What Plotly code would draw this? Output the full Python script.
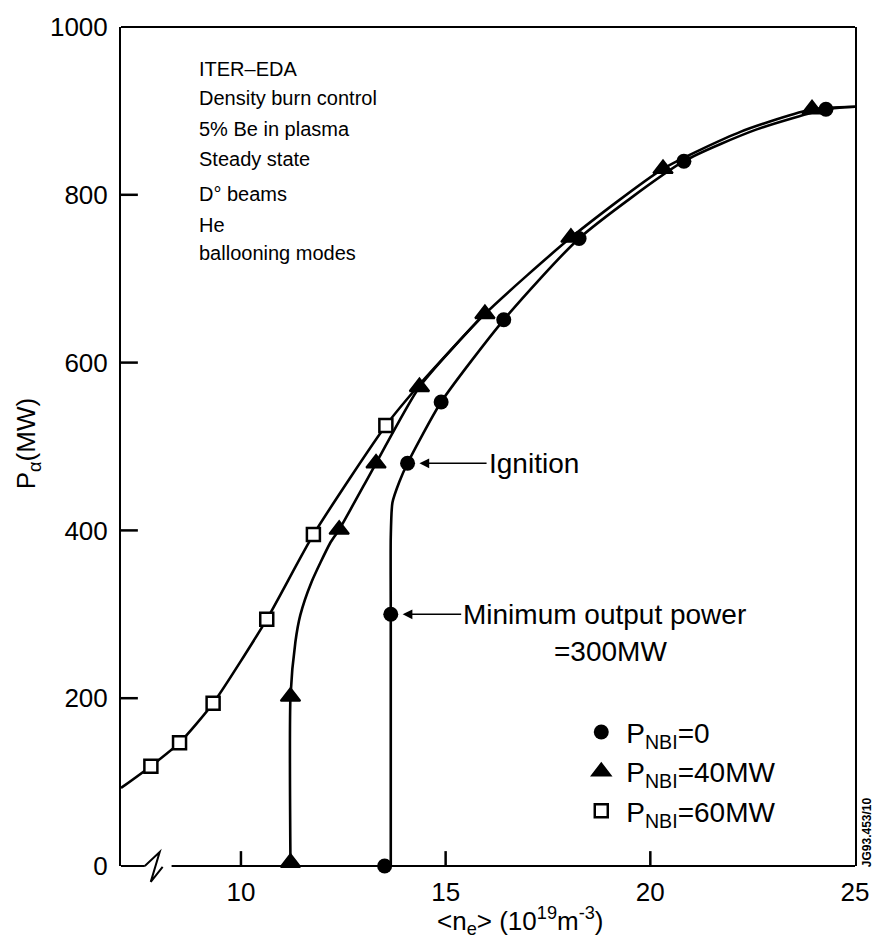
import plotly.graph_objects as go

# ---- data -------------------------------------------------------------
# P_NBI = 0 (circles)
circ_x = [13.51, 13.66, 14.07, 14.89, 16.42, 18.26, 20.82, 24.29]
circ_y = [0, 300, 480, 553, 651, 748, 840, 902]
circ_curve_x = [13.66, 13.66, 13.66, 13.70, 13.87, 14.07, 14.89, 16.42, 18.26, 20.82, 22.6, 24.29, 25.0]
circ_curve_y = [0, 300, 392, 433, 458, 480, 553, 651, 748, 840, 878, 902, 905]

# P_NBI = 40 MW (triangles)
tri_x = [11.21, 11.21, 12.40, 13.30, 14.36, 15.96, 18.06, 20.31, 23.95]
tri_y = [4, 202, 401, 480, 571, 658, 749, 831, 902]
tri_curve_x = [11.21, 11.21, 11.33, 11.45, 11.72, 12.18, 12.40, 13.30, 14.36, 15.96, 18.06, 20.31, 22.2, 23.95, 25.0]
tri_curve_y = [0, 202, 267, 299, 338, 385, 401, 480, 571, 658, 749, 831, 875, 902, 905]

# P_NBI = 60 MW (open squares)
sq_x = [7.80, 8.50, 9.32, 10.63, 11.77, 13.54]
sq_y = [119, 147, 194, 294, 395, 525]
sq_curve_x = [7.07, 7.80, 8.50, 9.32, 10.63, 11.77, 13.54, 14.40, 15.96]
sq_curve_y = [93, 119, 147, 194, 294, 395, 525, 576, 659]

x_ticks = [10, 15, 20, 25]
y_ticks = [0, 200, 400, 600, 800, 1000]

info_lines = ["ITER\u2013EDA", "Density burn control", "5% Be in plasma",
              "Steady state", "D\u00b0 beams", "He", "ballooning modes"]

legend_names = ["P<sub>NBI</sub>=0", "P<sub>NBI</sub>=40MW", "P<sub>NBI</sub>=60MW"]

# ---- geometry helpers (pixel -> paper) -------------------------------
W, H = 881, 948
ML, MR, MT, MB = 121, 20, 20, 82
PW, PH = W - ML - MR, H - MT - MB


def px(xp):
    return (xp - ML) / PW


def py(yp):
    return (H - MB - yp) / PH


FONT = "Liberation Sans, Arial, Helvetica, sans-serif"
LW = 2.6
BIG = 28

fig = go.Figure()

# curves
for cx, cy in [(sq_curve_x, sq_curve_y), (tri_curve_x, tri_curve_y), (circ_curve_x, circ_curve_y)]:
    fig.add_trace(go.Scatter(x=cx, y=cy, mode="lines", showlegend=False, hoverinfo="skip",
                             line=dict(color="black", width=LW, shape="spline", smoothing=0.6),
                             cliponaxis=False))

# markers
fig.add_trace(go.Scatter(x=circ_x, y=circ_y, mode="markers", name=legend_names[0],
                         marker=dict(symbol="circle", size=15, color="black"), cliponaxis=False))
fig.add_trace(go.Scatter(x=tri_x, y=tri_y, mode="markers", name=legend_names[1],
                         marker=dict(symbol="triangle-up", size=17, color="black",
                                     line=dict(color="black", width=2)), cliponaxis=False))
fig.add_trace(go.Scatter(x=sq_x, y=sq_y, mode="markers", name=legend_names[2],
                         marker=dict(symbol="square", size=13, color="white",
                                     line=dict(color="black", width=2.5)), cliponaxis=False))

annotations = []
# text block
info_y = [62, 92, 123, 153, 188, 220, 248]
for t, yp in zip(info_lines, info_y):
    annotations.append(dict(text=t, xref="paper", yref="paper", x=px(198), y=py(yp),
                            xanchor="left", yanchor="middle", showarrow=False,
                            font=dict(family=FONT, size=20, color="black")))

# pointers
arrow_style = dict(showarrow=True, arrowhead=2, arrowsize=1.3, arrowwidth=1.5, arrowcolor="black",
                   xref="x", yref="y", axref="x", ayref="y", xanchor="left", yanchor="middle",
                   font=dict(family=FONT, size=BIG, color="black"))
annotations.append(dict(text="Ignition", x=14.36, y=480, ax=16.0, ay=480, **arrow_style))
annotations.append(dict(text="Minimum output power", x=13.95, y=300, ax=15.38, ay=300, **arrow_style))
annotations.append(dict(text="=300MW", x=px(614), y=py(650), xref="paper", yref="paper",
                        xanchor="center", yanchor="middle", showarrow=False,
                        font=dict(family=FONT, size=BIG, color="black")))

# axis titles
annotations.append(dict(text="P<sub>\u03b1</sub>(MW)", x=px(27), y=py(440), xref="paper", yref="paper",
                        xanchor="center", yanchor="middle", textangle=-90, showarrow=False,
                        font=dict(family=FONT, size=26, color="black")))
annotations.append(dict(text="<n<sub>e</sub>> (10<sup>19</sup>m<sup>-3</sup>)", x=px(524), y=py(921),
                        xref="paper", yref="paper", xanchor="center", yanchor="middle", showarrow=False,
                        font=dict(family=FONT, size=26, color="black")))
# figure code
annotations.append(dict(text="<b>JG93.453/10</b>", x=px(873), y=py(832), xref="paper", yref="paper",
                        xanchor="center", yanchor="middle", textangle=-90, showarrow=False,
                        font=dict(family=FONT, size=12, color="black")))

shapes = [
    # top frame
    dict(type="line", xref="paper", yref="paper", x0=0, x1=1, y0=1, y1=1,
         line=dict(color="black", width=2)),
    # bottom axis with break
    dict(type="line", xref="paper", yref="paper", x0=0, x1=px(145), y0=0, y1=0,
         line=dict(color="black", width=2)),
    dict(type="line", xref="paper", yref="paper", x0=px(172), x1=1, y0=0, y1=0,
         line=dict(color="black", width=2)),
    dict(type="path", xref="paper", yref="paper",
         path=f"M {px(145)},{py(866)} L {px(160)},{py(852)} L {px(151)},{py(882)} L {px(163)},{py(867)}",
         line=dict(color="black", width=2)),
]
# inward tick marks
XT_LEN = 15 / PH
YT_LEN = 17 / PW
for xv in x_ticks[:-1]:
    shapes.append(dict(type="line", xref="x", yref="paper", x0=xv, x1=xv, y0=0, y1=XT_LEN,
                       line=dict(color="black", width=2.5)))
for yv in y_ticks[1:-1]:
    shapes.append(dict(type="line", xref="paper", yref="y", x0=0, x1=YT_LEN, y0=yv, y1=yv,
                       line=dict(color="black", width=2.5)))

fig.update_layout(
    width=W, height=H, autosize=False,
    margin=dict(l=ML, r=MR, t=MT, b=MB),
    paper_bgcolor="white", plot_bgcolor="white",
    font=dict(family=FONT, color="black"),
    xaxis=dict(range=[7.07, 25], tickvals=x_ticks, ticks="", showline=False, showgrid=False,
               zeroline=False, ticklabelstandoff=8,
               tickfont=dict(family=FONT, size=26, color="black")),
    yaxis=dict(range=[0, 1000], tickvals=y_ticks, ticks="", showline=True, linewidth=2,
               linecolor="black", mirror=True, showgrid=False, zeroline=False,
               ticklabelstandoff=6,
               tickfont=dict(family=FONT, size=26, color="black")),
    showlegend=True,
    legend=dict(x=px(580), y=py(706), xanchor="left", yanchor="top",
                bgcolor="rgba(0,0,0,0)", font=dict(family=FONT, size=BIG, color="black"),
                tracegroupgap=0, itemwidth=40),
    annotations=annotations,
    shapes=shapes,
)

fig.write_html("out.html")
